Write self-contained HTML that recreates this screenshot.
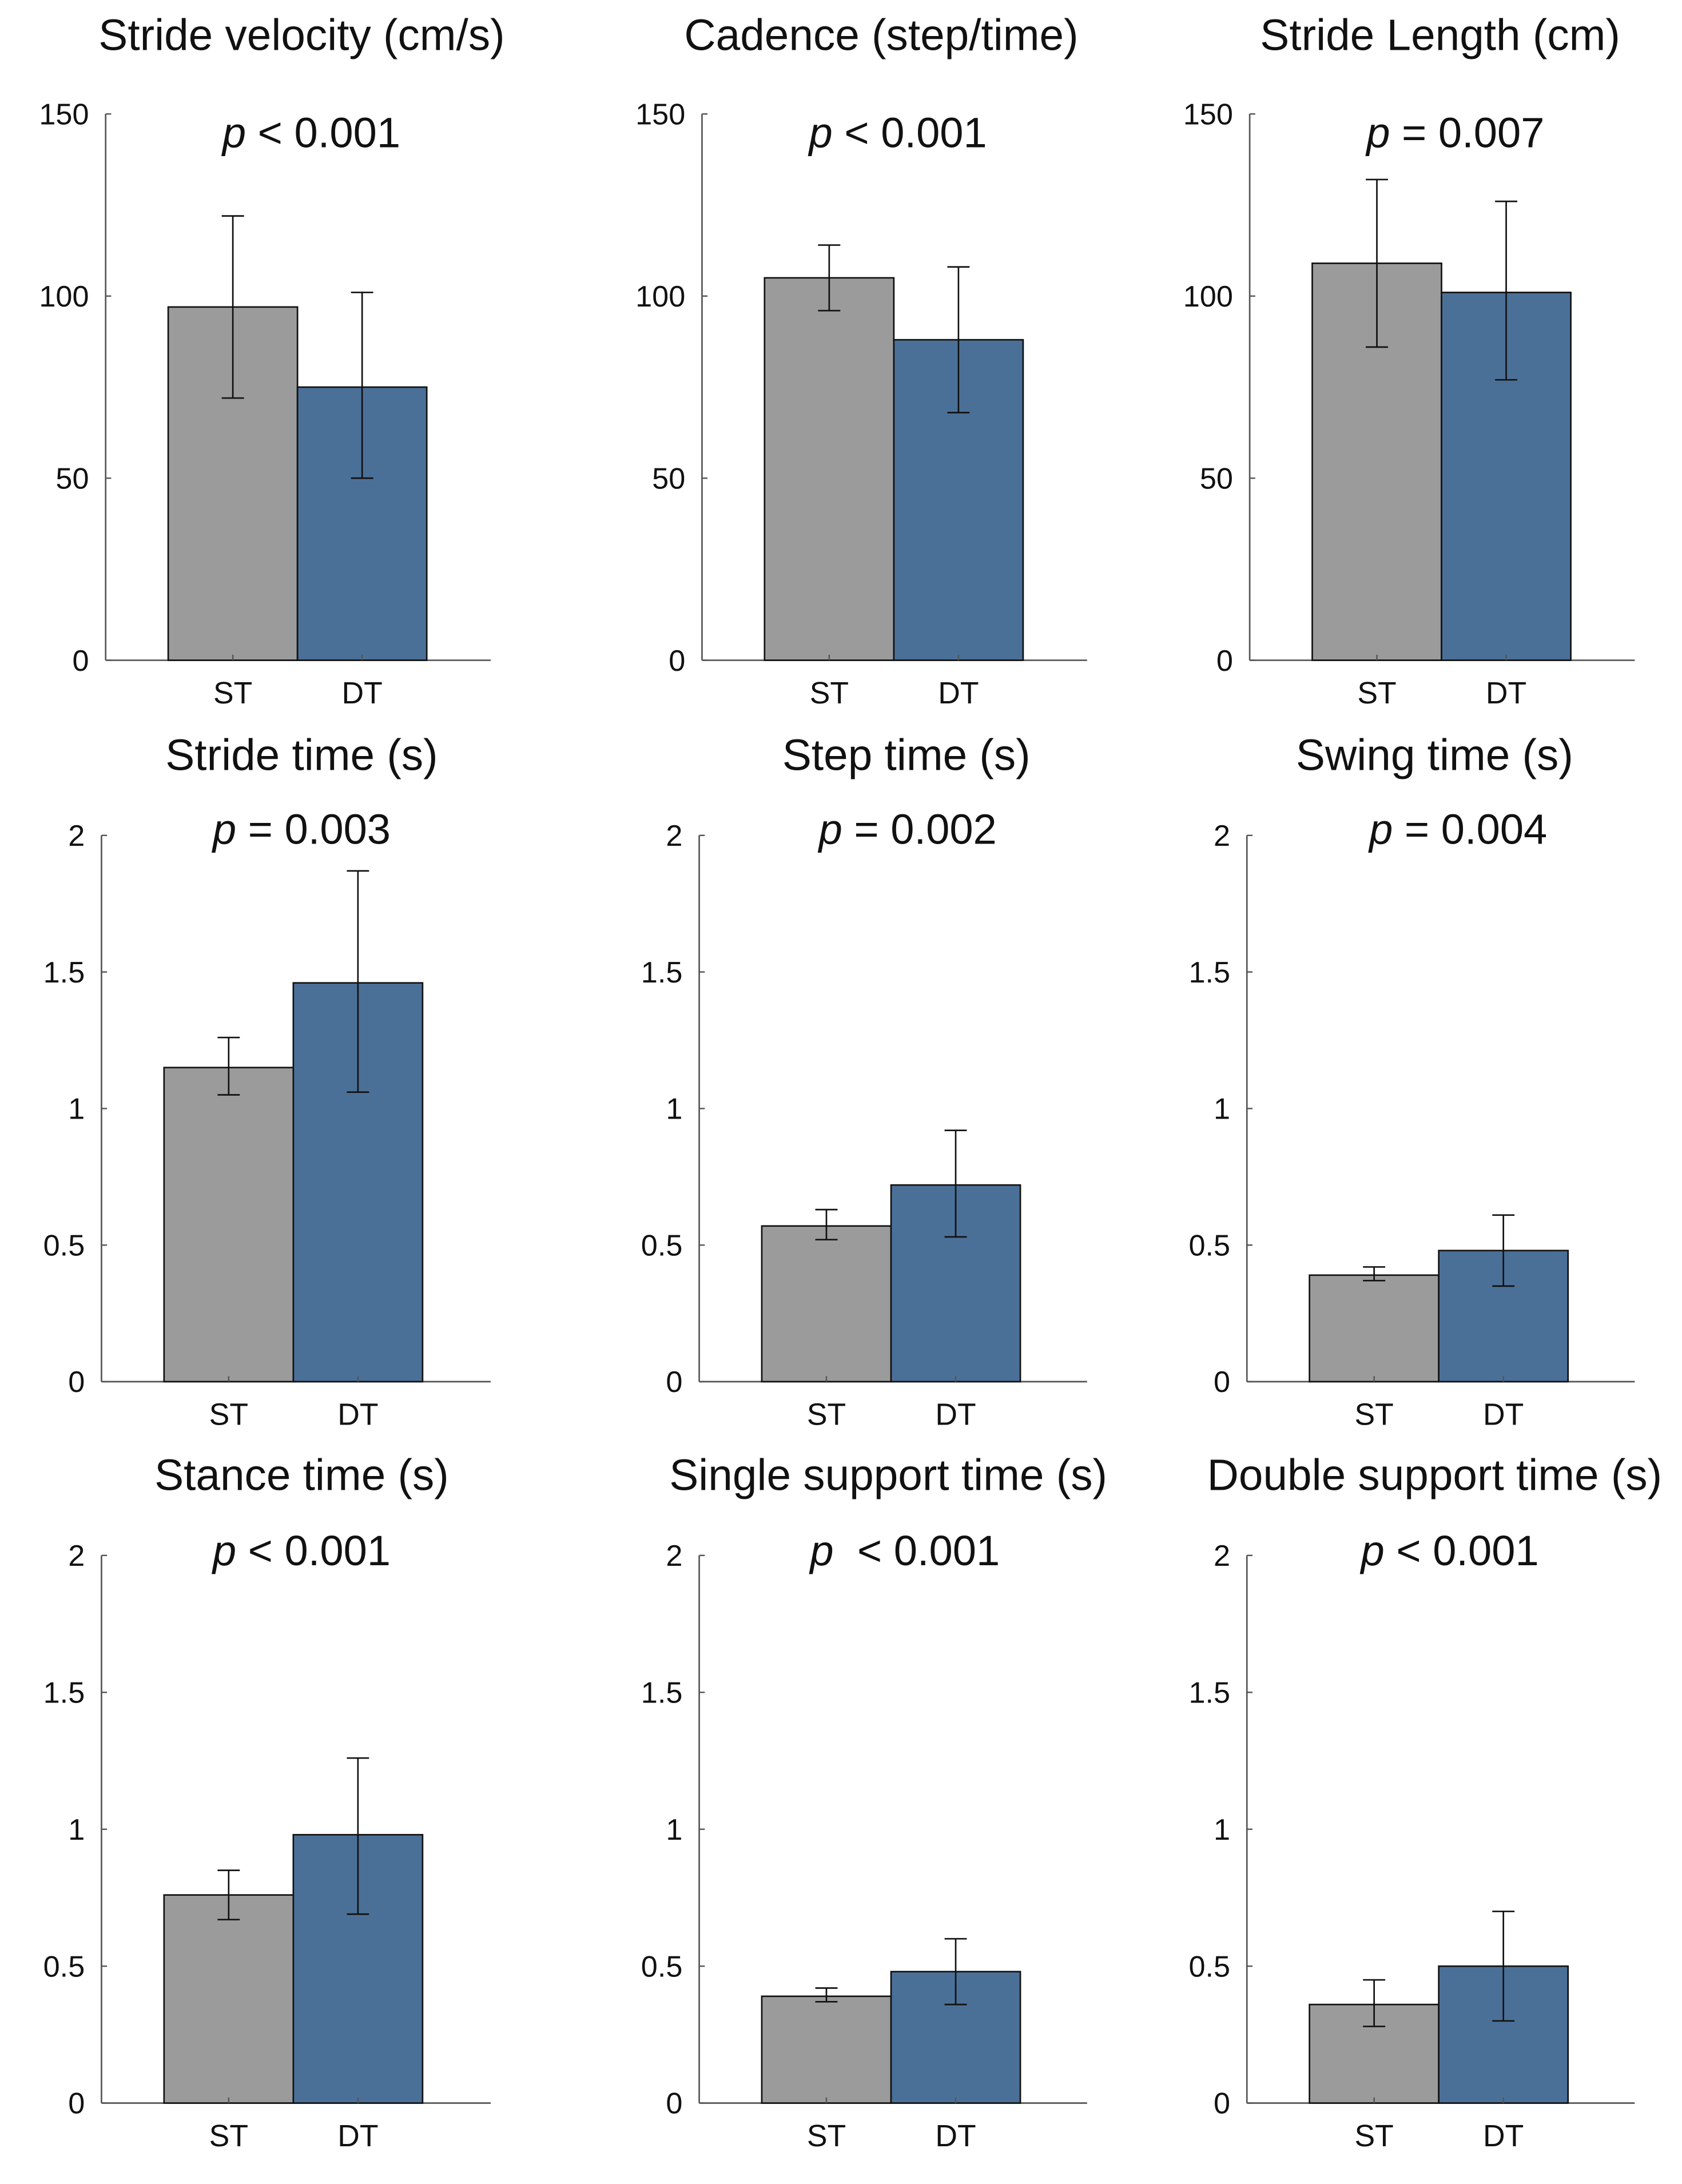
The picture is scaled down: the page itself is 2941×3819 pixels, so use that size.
<!DOCTYPE html>
<html><head><meta charset="utf-8"><style>
html,body{margin:0;padding:0;background:#fff;}
svg{display:block;}
text{font-family:"Liberation Sans",Arial,sans-serif;fill:#111;}
</style></head><body>
<svg id="fig" width="2941" height="3819" viewBox="0 0 2941 3819" xmlns="http://www.w3.org/2000/svg">
<g id="root" transform="scale(2.4306)"></g>
</svg>
<script>
const titles = ["Stride velocity (cm/s)","Cadence (step/time)","Stride Length (cm)","Stride time (s)","Step time (s)","Swing time (s)","Stance time (s)","Single support time (s)","Double support time (s)"];
const pLabels = ["< 0.001","< 0.001","= 0.007","= 0.003","= 0.002","= 0.004","< 0.001","\u00a0< 0.001","< 0.001"];
const categories = ["ST","DT"];
const stMeans = [97,105,109,1.15,0.57,0.39,0.76,0.39,0.36];
const stLow = [72,96,86,1.05,0.52,0.37,0.67,0.37,0.28];
const stHigh = [122,114,132,1.26,0.63,0.42,0.85,0.42,0.45];
const dtMeans = [75,88,101,1.46,0.72,0.48,0.98,0.48,0.50];
const dtLow = [50,68,77,1.06,0.53,0.35,0.69,0.36,0.30];
const dtHigh = [101,108,126,1.87,0.92,0.61,1.26,0.60,0.70];
const yMax = [150,150,150,2,2,2,2,2,2];
const ticksRow1 = ["0","50","100","150"];
const ticksTime = ["0","0.5","1","1.5","2"];

const NS="http://www.w3.org/2000/svg";
const root=document.getElementById('root');
const axisXs=[[76,505,899],[73,503,897],[73,503,897]];
const axisRight=[353,782,1176];
const yZero=[475,994,1513], yTop=[82,601,1119];
const titleX=[[217,634,1036],[217,652,1032],[217,639,1032]];
const titleY=[36,554,1072];
const pX=[[224,646,1047],[217,653,1049],[217,651,1043]];
const pY=[106,607,1126];
function el(tag,attrs,parent){const e=document.createElementNS(NS,tag);for(const k in attrs)e.setAttribute(k,attrs[k]);(parent||root).appendChild(e);return e;}

for(let i=0;i<9;i++){
  const r=Math.floor(i/3), c=i%3;
  const ax=axisXs[r][c], ar=axisRight[c], y0=yZero[r], yt=yTop[r];
  const yS=v=>y0-(v/yMax[i])*(y0-yt);
  const g=el('g',{});
  
  
  const t=el('text',{x:titleX[r][c],y:titleY[r],'text-anchor':'middle','font-size':31.5},g);
  t.textContent=titles[i];
  
  
  const p=el('text',{x:pX[r][c],y:pY[r],'text-anchor':'middle','font-size':30.5},g);
  
  
  const pi=el('tspan',{'font-style':'italic'},p); pi.textContent='p';
  const pr=el('tspan',{},p); pr.textContent=' '+pLabels[i];
  const ya=el('line',{x1:ax,y1:yt,x2:ax,y2:y0,stroke:'#555','stroke-width':1.1},g);
  
  
  const xa=el('line',{x1:ax,y1:y0,x2:ar,y2:y0,stroke:'#555','stroke-width':1.1},g);
  
  
  const ticks=r===0?ticksRow1:ticksTime;
  ticks.forEach(tk=>{
    const yy=yS(parseFloat(tk));
    el('line',{x1:ax,y1:yy,x2:ax+4,y2:yy,stroke:'#555','stroke-width':1},g);
    const tl=el('text',{x:ax-12,y:yy+7.5,'text-anchor':'end','font-size':21.5,fill:'#222'},g);
    tl.textContent=tk;
    
    
  });
  const means=[stMeans[i],dtMeans[i]], lows=[stLow[i],dtLow[i]], highs=[stHigh[i],dtHigh[i]];
  const fills=['#9b9b9b','#4b7098'];
  categories.forEach((cat,k)=>{
    const bx=ax+45+k*93, cx=bx+46.5;
    const b=el('rect',{x:bx,y:yS(means[k]),width:93,height:y0-yS(means[k]),fill:fills[k],stroke:'#111','stroke-width':1.1},g);
    
    
    el('line',{x1:cx,y1:y0,x2:cx,y2:y0-4,stroke:'#555','stroke-width':1},g);
    const eb=el('path',{d:`M${cx} ${yS(lows[k])}V${yS(highs[k])}M${cx-8} ${yS(lows[k])}H${cx+8}M${cx-8} ${yS(highs[k])}H${cx+8}`,stroke:'#111','stroke-width':1.1,fill:'none'},g);
    
    
    const xl=el('text',{x:cx,y:y0+31,'text-anchor':'middle','font-size':22,fill:'#222'},g);
    xl.textContent=cat;
    
    
  });
}
</script>
</body></html>
